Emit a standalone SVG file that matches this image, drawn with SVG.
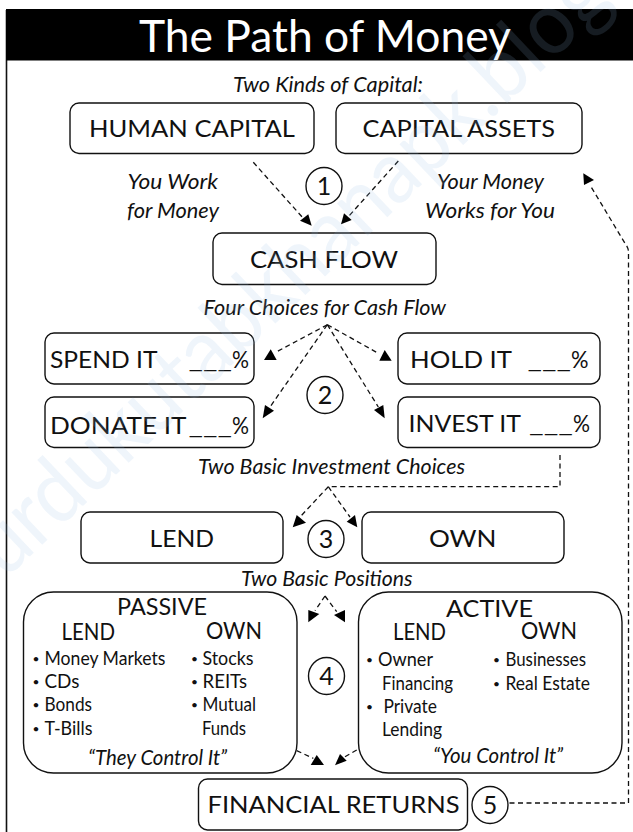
<svg xmlns="http://www.w3.org/2000/svg" width="633" height="832" viewBox="0 0 633 832">
<style>
text{font-family:"Lato","Open Sans","Liberation Sans",sans-serif;fill:#111}
.t{font-size:24px}
.i{font-size:21px;font-style:italic}
.b{font-size:18.5px}
.u{font-size:12px;text-anchor:middle}
.n{font-size:25px;text-anchor:middle}
.box{fill:none;stroke:#111;stroke-width:1.4}
.c{fill:none;stroke:#111;stroke-width:1.4}
.d{fill:none;stroke:#111;stroke-width:1.3;stroke-dasharray:5 3.500}
.h{fill:#000}
</style>
<rect width="633" height="832" fill="#fff"/>
<path d="M6.500 10V832" stroke="#111" stroke-width="1.600" fill="none"/>
<g id="title"><rect x="6" y="9" width="627" height="51.500" fill="#000"/>
<text x="139" y="51.500" font-size="44" textLength="372" lengthAdjust="spacingAndGlyphs" style="fill:#fff">The Path of Money</text></g>
<g id="connectors">
<path class="d" d="M253.300 162.300L303.300 218.300"/><polygon class="h" points="311.700,225.700 300,220.700 308.300,214.300"/>
<path class="d" d="M398.300 161L348.300 216.700"/><polygon class="h" points="341,224.300 351.700,220 344,213.300"/>
<path class="d" d="M509.500 803H628.500V252Q628.500 248 625 243.300L590 185"/><polygon class="h" points="583.300,173.300 594,180 584,185"/>
<path class="d" d="M327.300 324.700L276.700 351.700"/><polygon class="h" points="264,360 276.700,360 270.700,349.300"/>
<path class="d" d="M327.300 324.700L270 407"/><polygon class="h" points="262.700,418.300 274,410.700 265,405"/>
<path class="d" d="M327.300 324.700L378.300 353.300"/><polygon class="h" points="379.300,360.700 391.700,360.700 384.700,350"/>
<path class="d" d="M327.300 324.700L378.300 407"/><polygon class="h" points="384.700,418.300 374,410 383.300,405"/>
<path class="d" d="M560 455V486.700H328.300"/>
<path class="d" d="M328.300 486.700L300 517"/><polygon class="h" points="292.700,527.300 306,522.700 296.700,515"/>
<path class="d" d="M328.300 486.700L350 517"/><polygon class="h" points="357.300,527.300 346.700,521.700 355,515"/>
<path class="d" d="M325 596L315 610.700"/><polygon class="h" points="308.300,610 308.300,622.300 319.300,614"/>
<path class="d" d="M325 596L336.700 611.700"/><polygon class="h" points="345,610 345,622.300 334,615"/>
<path class="d" d="M296.700 750.700L313.300 758.300"/><polygon class="h" points="310.700,765 324,765 316.700,755"/>
<path class="d" d="M356.700 750L345 756.700"/><polygon class="h" points="335,765.300 346.700,760.700 340,754"/>
</g>
<text x="233" y="92" class="i" textLength="190" lengthAdjust="spacingAndGlyphs">Two Kinds of Capital:</text>
<g id="human-capital"><rect class="box" x="70" y="103" width="244" height="50.500" rx="9"/><text class="t" x="89" y="137" textLength="206" lengthAdjust="spacingAndGlyphs">HUMAN CAPITAL</text></g>
<g id="capital-assets"><rect class="box" x="336" y="103" width="246" height="50.500" rx="9"/><text class="t" x="362.500" y="137" textLength="192.500" lengthAdjust="spacingAndGlyphs">CAPITAL ASSETS</text></g>
<text class="i" x="127.500" y="189" textLength="90.500" lengthAdjust="spacingAndGlyphs">You Work</text>
<text class="i" x="127" y="218" textLength="92" lengthAdjust="spacingAndGlyphs">for Money</text>
<text class="i" x="437" y="189" textLength="107" lengthAdjust="spacingAndGlyphs">Your Money</text>
<text class="i" x="425" y="218" textLength="130" lengthAdjust="spacingAndGlyphs">Works for You</text>
<g id="step-1"><ellipse class="c" cx="324" cy="186" rx="18" ry="18.500"/><text class="n" x="324" y="195">1</text></g>
<g id="cash-flow"><rect class="box" x="213" y="233" width="223" height="51.500" rx="9"/><text class="t" x="250" y="268" textLength="148" lengthAdjust="spacingAndGlyphs">CASH FLOW</text></g>
<text class="i" x="203.500" y="315" textLength="242.500" lengthAdjust="spacingAndGlyphs">Four Choices for Cash Flow</text>
<g id="spend-it"><rect class="box" x="45" y="333" width="209" height="51" rx="9"/><text class="t" y="368"><tspan x="50" textLength="107.500" lengthAdjust="spacingAndGlyphs">SPEND IT</tspan><tspan x="188.500" textLength="43.500" lengthAdjust="spacingAndGlyphs">___</tspan><tspan x="232" textLength="17" lengthAdjust="spacingAndGlyphs">%</tspan></text></g>
<g id="donate-it"><rect class="box" x="45" y="397" width="209" height="50.500" rx="9"/><text class="t" y="434"><tspan x="50" textLength="136.500" lengthAdjust="spacingAndGlyphs">DONATE IT</tspan><tspan x="188.500" textLength="43.500" lengthAdjust="spacingAndGlyphs">___</tspan><tspan x="232" textLength="17" lengthAdjust="spacingAndGlyphs">%</tspan></text></g>
<g id="hold-it"><rect class="box" x="398" y="333" width="202" height="51" rx="9"/><text class="t" y="368"><tspan x="410" textLength="102" lengthAdjust="spacingAndGlyphs">HOLD IT</tspan><tspan x="527.500" textLength="43.500" lengthAdjust="spacingAndGlyphs">___</tspan><tspan x="571" textLength="17.500" lengthAdjust="spacingAndGlyphs">%</tspan></text></g>
<g id="invest-it"><rect class="box" x="398" y="397" width="202" height="50.500" rx="9"/><text class="t" y="432"><tspan x="408.500" textLength="112.500" lengthAdjust="spacingAndGlyphs">INVEST IT</tspan><tspan x="529" textLength="44" lengthAdjust="spacingAndGlyphs">___</tspan><tspan x="573" textLength="17" lengthAdjust="spacingAndGlyphs">%</tspan></text></g>
<g id="step-2"><ellipse class="c" cx="325" cy="395" rx="18" ry="18.500"/><text class="n" x="325" y="404">2</text></g>
<text class="i" x="198" y="474" textLength="267" lengthAdjust="spacingAndGlyphs">Two Basic Investment Choices</text>
<g id="lend"><rect class="box" x="81" y="512" width="202" height="51" rx="9"/><text class="t" x="149.500" y="547" textLength="64.500" lengthAdjust="spacingAndGlyphs">LEND</text></g>
<g id="own"><rect class="box" x="362" y="512" width="202" height="51" rx="9"/><text class="t" x="429" y="547" textLength="67.500" lengthAdjust="spacingAndGlyphs">OWN</text></g>
<g id="step-3"><ellipse class="c" cx="326" cy="539" rx="18" ry="18.500"/><text class="n" x="326" y="548">3</text></g>
<text class="i" x="241" y="586" textLength="171.500" lengthAdjust="spacingAndGlyphs">Two Basic Positions</text>
<g id="passive"><rect class="box" x="23.500" y="592" width="273.500" height="181" rx="30"/>
<text class="t" x="117" y="615" textLength="90" lengthAdjust="spacingAndGlyphs">PASSIVE</text>
<text class="t" x="61.500" y="640" textLength="53.500" lengthAdjust="spacingAndGlyphs">LEND</text>
<text class="t" x="206" y="639" textLength="56" lengthAdjust="spacingAndGlyphs">OWN</text>
<text class="u" x="36" y="663">•</text><text class="b" x="44.500" y="665" textLength="121" lengthAdjust="spacingAndGlyphs">Money Markets</text>
<text class="u" x="36" y="686">•</text><text class="b" x="44.500" y="688" textLength="35" lengthAdjust="spacingAndGlyphs">CDs</text>
<text class="u" x="36" y="709">•</text><text class="b" x="44.500" y="711" textLength="47.500" lengthAdjust="spacingAndGlyphs">Bonds</text>
<text class="u" x="36" y="733">•</text><text class="b" x="44.500" y="735" textLength="48" lengthAdjust="spacingAndGlyphs">T-Bills</text>
<text class="u" x="194.500" y="663">•</text><text class="b" x="202.500" y="665" textLength="51" lengthAdjust="spacingAndGlyphs">Stocks</text>
<text class="u" x="194.500" y="686">•</text><text class="b" x="202.500" y="688" textLength="44.500" lengthAdjust="spacingAndGlyphs">REITs</text>
<text class="u" x="194.500" y="709">•</text><text class="b" x="202.500" y="711" textLength="53.500" lengthAdjust="spacingAndGlyphs">Mutual</text>
<text class="b" x="202" y="735" textLength="44" lengthAdjust="spacingAndGlyphs">Funds</text>
<text class="i" x="88" y="765" textLength="139" lengthAdjust="spacingAndGlyphs">“They Control It”</text></g>
<g id="active"><rect class="box" x="358.500" y="592" width="263.500" height="181" rx="30"/>
<text class="t" x="446" y="616.500" textLength="87" lengthAdjust="spacingAndGlyphs">ACTIVE</text>
<text class="t" x="393" y="640" textLength="53" lengthAdjust="spacingAndGlyphs">LEND</text>
<text class="t" x="521" y="639" textLength="56" lengthAdjust="spacingAndGlyphs">OWN</text>
<text class="u" x="369.500" y="663.500">•</text><text class="b" x="378" y="665.500" textLength="55" lengthAdjust="spacingAndGlyphs">Owner</text>
<text class="b" x="382" y="690" textLength="71" lengthAdjust="spacingAndGlyphs">Financing</text>
<text class="u" x="369.500" y="710.500">•</text><text class="b" x="383.500" y="712.500" textLength="53.500" lengthAdjust="spacingAndGlyphs">Private</text>
<text class="b" x="382" y="736" textLength="60" lengthAdjust="spacingAndGlyphs">Lending</text>
<text class="u" x="496.500" y="664">•</text><text class="b" x="505.500" y="666" textLength="80.500" lengthAdjust="spacingAndGlyphs">Businesses</text>
<text class="u" x="496.500" y="688">•</text><text class="b" x="505.500" y="690" textLength="84.500" lengthAdjust="spacingAndGlyphs">Real Estate</text>
<text class="i" x="433" y="763" textLength="130" lengthAdjust="spacingAndGlyphs">“You Control It”</text></g>
<g id="step-4"><ellipse class="c" cx="326.500" cy="676" rx="18" ry="18.500"/><text class="n" x="326.500" y="685">4</text></g>
<g id="financial-returns"><rect class="box" x="198.500" y="779" width="269" height="51" rx="9"/><text class="t" x="207.500" y="813" textLength="252" lengthAdjust="spacingAndGlyphs">FINANCIAL RETURNS</text></g>
<g id="step-5"><ellipse class="c" cx="490" cy="805" rx="18" ry="18.500"/><text class="n" x="490" y="814">5</text></g>
<text id="watermark" x="5" y="580" font-size="88" textLength="840" lengthAdjust="spacingAndGlyphs" transform="rotate(-43.500 5 580)" style="fill:#94b9e7;fill-opacity:.15">urdukutabkhanapk.blog</text>
</svg>
